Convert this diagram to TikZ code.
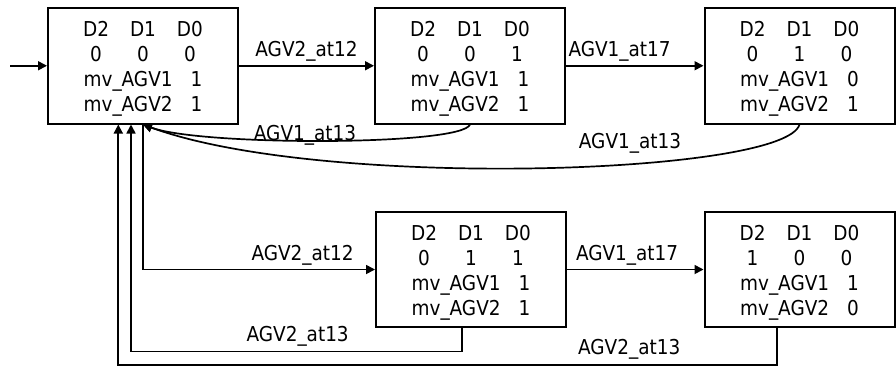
\documentclass[tikz,border=0pt]{standalone}
\usepackage{fontspec}
\setmainfont{DejaVu Sans Condensed}
\usetikzlibrary{arrows.meta}

% state table: D2 D1 D0 bits, then the two move flags
\newcommand\statetab[5]{%
  \begin{tabular}[t]{@{}c@{\hspace{21pt}}c@{\hspace{21pt}}c@{}}
    D2 & D1 & D0\\
    #1 & #2 & #3\\
    \multicolumn{3}{@{}c@{}}{mv\_AGV1\hspace{18pt}#4}\\
    \multicolumn{3}{@{}c@{}}{mv\_AGV2\hspace{18pt}#5}
  \end{tabular}}

\begin{document}
\begin{tikzpicture}[x=1pt, y=-1pt,
  every node/.style={font=\fontsize{20.5pt}{25pt}\selectfont},
  statebox/.style={draw, line width=2pt, minimum width=190pt,
    minimum height=115.5pt, inner sep=0pt, text height=20pt, text depth=78.1pt},
  flow/.style={line width=1.7pt, -{Triangle[length=9pt,width=9pt]}},
  lbl/.style={anchor=base, inner sep=0pt, yshift=9pt}]

\path[fill=white, use as bounding box] (0,0) rectangle (896,368);

% states
\node[statebox] (A) at (143,65.75)   {\statetab{0}{0}{0}{1}{1}};
\node[statebox] (B) at (470,65.75)   {\statetab{0}{0}{1}{1}{1}};
\node[statebox] (C) at (799.5,65.75) {\statetab{0}{1}{0}{0}{1}};
\node[statebox] (D) at (471,269.5)   {\statetab{0}{1}{1}{1}{1}};
\node[statebox] (E) at (799.5,269.5) {\statetab{1}{0}{0}{1}{0}};

% entry point
\coordinate (start) at (10,65.75);
\draw[flow] (start) -- (A);

% forward transitions
\draw[flow] (A) -- node[lbl] {AGV2\_at12} (B);
\draw[flow] (B) -- node[lbl, pos=0.39] {AGV1\_at17} (C);
\draw[flow] (A.south) |- node[lbl, pos=0.844, yshift=0.5pt] {AGV2\_at12} (D.west);
\draw[flow] (D) -- node[lbl, pos=0.44] {AGV1\_at17} (E);

% returns to the initial state on AGV1_at13
\draw[flow] (B.south) .. controls (462,146) and (200,146) .. (A.south);
\draw[flow] (C.south) .. controls (785,175) and (320,190) .. (A.south);
\node[anchor=base, inner sep=0pt] (lb1) at (305,140) {AGV1\_at13};
\node[anchor=base, inner sep=0pt] (lb2) at (630,148) {AGV1\_at13};

% returns to the initial state on AGV2_at13
\coordinate (dOut) at ([xshift=-9.3pt]D.south);
\coordinate (eOut) at ([xshift=-22.8pt]E.south);
\coordinate (aInD) at ([xshift=-12pt]A.south);
\coordinate (aInE) at ([xshift=-24.7pt]A.south);
\draw[flow] (dOut) -- ++(0,23.3) -| node[lbl, pos=0.248, yshift=1pt] {AGV2\_at13} (aInD);
\draw[flow] (eOut) -- ++(0,36.5) -| node[lbl, pos=0.112, yshift=1pt] {AGV2\_at13} (aInE);
\end{tikzpicture}
\end{document}
